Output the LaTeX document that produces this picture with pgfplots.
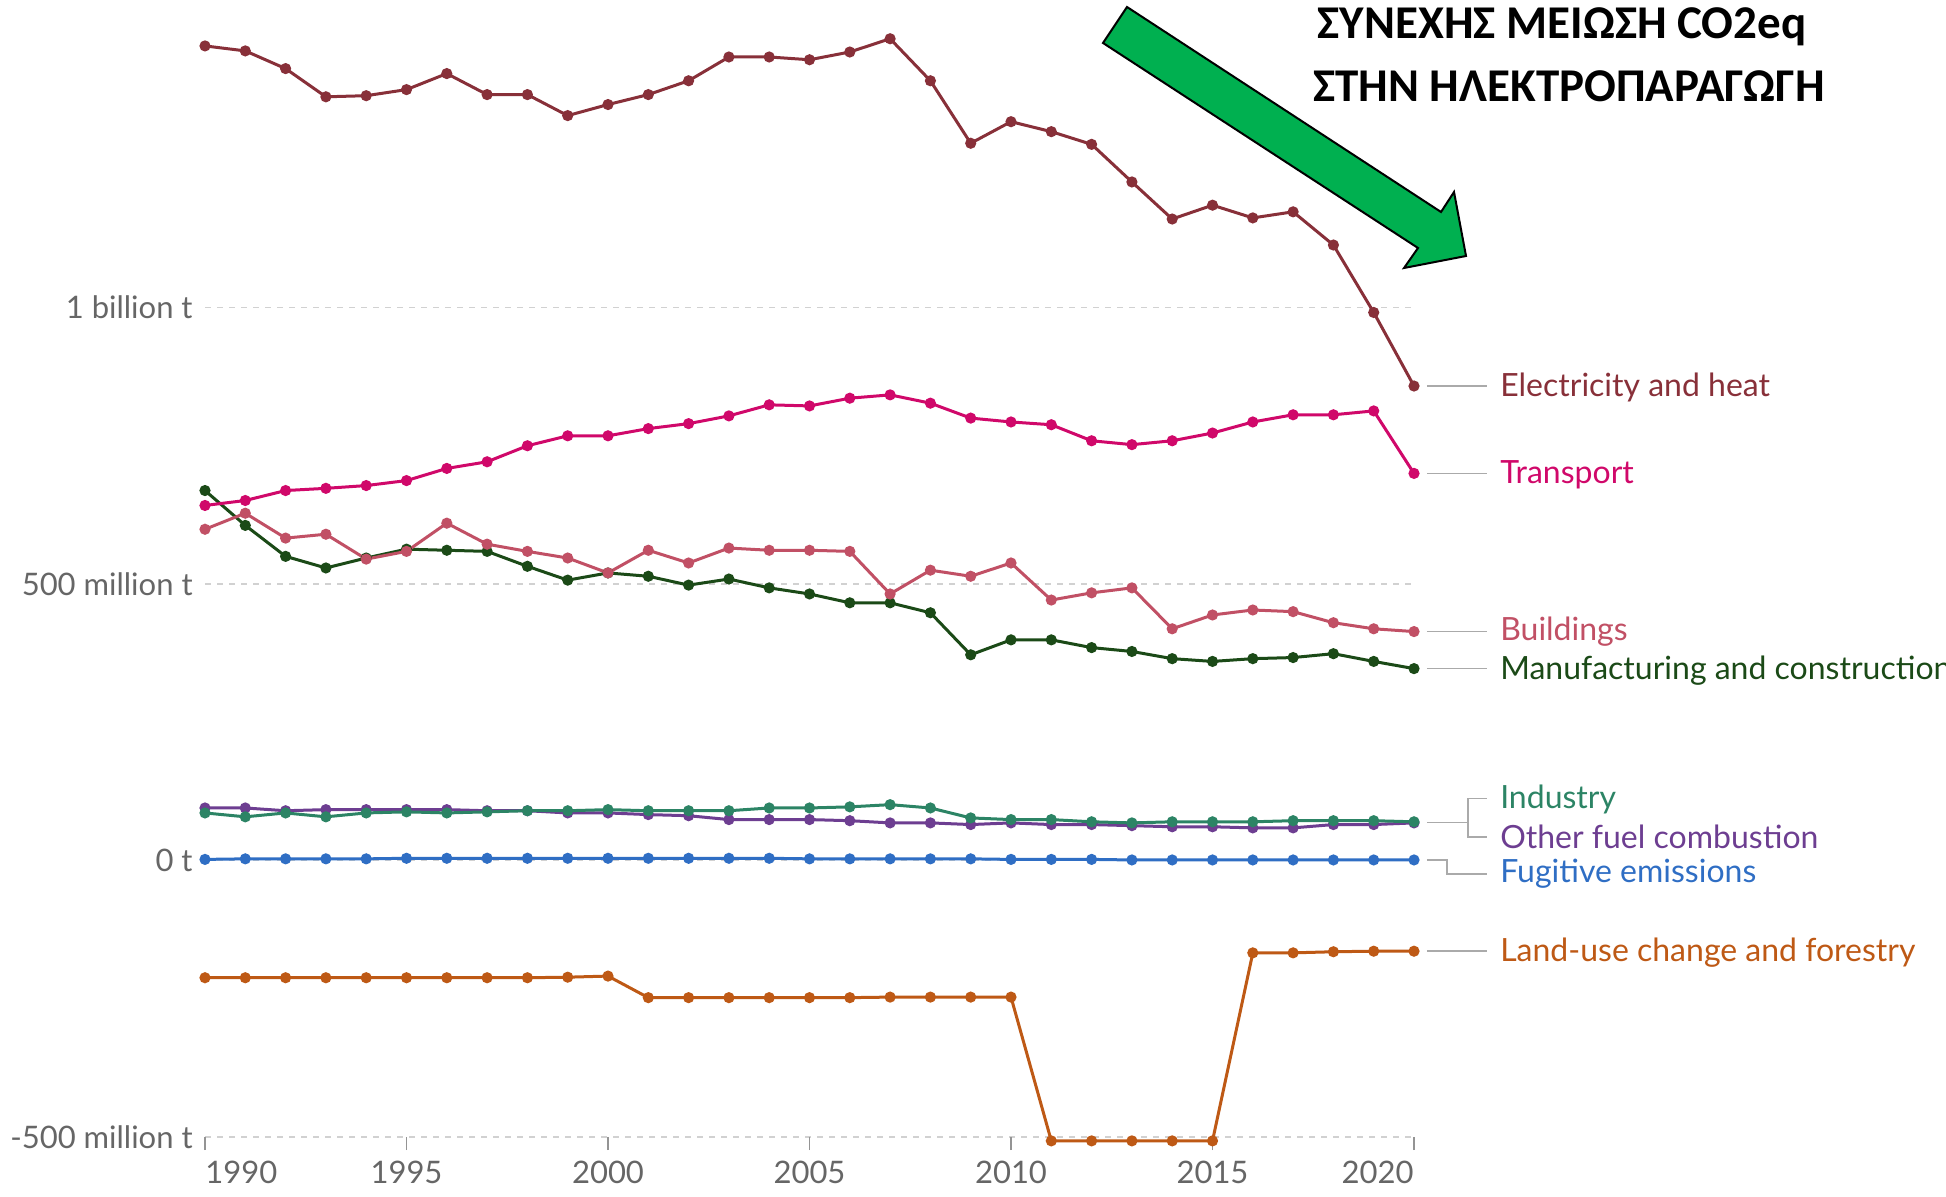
\documentclass[border=0pt]{standalone}
\usepackage{fontspec}
\setmainfont{Lato}
\newfontfamily\annfont{Carlito}
\usepackage{pgfplots}
\pgfplotsset{compat=1.18}
\definecolor{celec}{HTML}{883039}
\definecolor{ctrans}{HTML}{D0086A}
\definecolor{cbuild}{HTML}{C15065}
\definecolor{cmanuf}{HTML}{1B4A17}
\definecolor{cindus}{HTML}{2C8465}
\definecolor{cother}{HTML}{6D3E91}
\definecolor{cfugit}{HTML}{2F6EC4}
\definecolor{cland}{HTML}{BE5915}
\definecolor{ctick}{HTML}{666666}
\definecolor{cconn}{HTML}{AAAAAA}
\definecolor{carrow}{HTML}{00B050}
\begin{document}
\begin{tikzpicture}
\begin{axis}[
  at={(102.5pt,29.5pt)}, anchor=south west,
  scale only axis, width=604.5pt, height=553pt,
  xmin=1990, xmax=2020, ymin=-500, ymax=1500,
  clip=false,
  axis line style={draw=none},
  xtick={1990,1995,...,2020}, xticklabels={},
  xtick pos=lower, ytick pos=left,
  ytick={-500,0,500,1000}, yticklabels={},
  tick align=outside, major tick length=6.5pt,
  xtick style={draw=ctick!70, line width=0.8pt},
  ytick style={draw=none},
  ymajorgrids, grid style={dashed, draw=black!18, line width=0.8pt},
  every axis plot/.append style={line width=1.5pt, mark=*, mark size=2pt},
]
% Land-use change and forestry
\addplot[color=cland, mark options={fill=cland}] coordinates {
(1990,-212)(1991,-212)(1992,-212)(1993,-212)(1994,-212)(1995,-212)(1996,-212)(1997,-212)(1998,-212)(1999,-211)(2000,-209)
(2001,-248)(2002,-248)(2003,-248)(2004,-248)(2005,-248)(2006,-248)(2007,-247)(2008,-247)(2009,-247)(2010,-247)
(2011,-507)(2012,-507)(2013,-507)(2014,-507)(2015,-507)
(2016,-167)(2017,-167)(2018,-165)(2019,-164)(2020,-164)};
% Fugitive emissions
\addplot[color=cfugit, mark options={fill=cfugit}] coordinates {
(1990,2)(1991,3)(1992,3)(1993,3)(1994,3)(1995,4)(1996,4)(1997,4)(1998,4)(1999,4)(2000,4)
(2001,4)(2002,4)(2003,4)(2004,4)(2005,3)(2006,3)(2007,3)(2008,3)(2009,3)(2010,2)
(2011,2)(2012,2)(2013,1)(2014,1)(2015,1)(2016,1)(2017,1)(2018,1)(2019,1)(2020,1)};
% Other fuel combustion
\addplot[color=cother, mark options={fill=cother}] coordinates {
(1990,95)(1991,95)(1992,90)(1993,92)(1994,92)(1995,92)(1996,92)(1997,90)(1998,90)(1999,86)(2000,86)
(2001,83)(2002,81)(2003,74)(2004,74)(2005,74)(2006,72)(2007,68)(2008,68)(2009,65)(2010,68)
(2011,65)(2012,65)(2013,63)(2014,61)(2015,61)(2016,59)(2017,59)(2018,65)(2019,65)(2020,68)};
% Industry
\addplot[color=cindus, mark options={fill=cindus}] coordinates {
(1990,86)(1991,79)(1992,86)(1993,79)(1994,86)(1995,88)(1996,86)(1997,88)(1998,90)(1999,90)(2000,92)
(2001,90)(2002,90)(2003,90)(2004,95)(2005,95)(2006,97)(2007,101)(2008,95)(2009,77)(2010,74)
(2011,74)(2012,70)(2013,68)(2014,70)(2015,70)(2016,70)(2017,72)(2018,72)(2019,72)(2020,70)};
% Manufacturing and construction
\addplot[color=cmanuf, mark options={fill=cmanuf}] coordinates {
(1990,669)(1991,606)(1992,550)(1993,529)(1994,547)(1995,563)(1996,561)(1997,559)(1998,532)(1999,507)(2000,520)
(2001,514)(2002,498)(2003,509)(2004,493)(2005,482)(2006,466)(2007,466)(2008,448)(2009,372)(2010,399)
(2011,399)(2012,385)(2013,378)(2014,365)(2015,360)(2016,365)(2017,367)(2018,374)(2019,360)(2020,347)};
% Buildings
\addplot[color=cbuild, mark options={fill=cbuild}] coordinates {
(1990,599)(1991,628)(1992,583)(1993,590)(1994,545)(1995,559)(1996,610)(1997,572)(1998,559)(1999,547)(2000,520)
(2001,561)(2002,538)(2003,565)(2004,561)(2005,561)(2006,559)(2007,482)(2008,525)(2009,514)(2010,538)
(2011,471)(2012,484)(2013,493)(2014,419)(2015,444)(2016,453)(2017,450)(2018,430)(2019,419)(2020,414)};
% Transport
\addplot[color=ctrans, mark options={fill=ctrans}] coordinates {
(1990,642)(1991,651)(1992,669)(1993,673)(1994,678)(1995,687)(1996,709)(1997,721)(1998,750)(1999,768)(2000,768)
(2001,781)(2002,790)(2003,804)(2004,824)(2005,822)(2006,836)(2007,842)(2008,827)(2009,800)(2010,793)
(2011,788)(2012,759)(2013,752)(2014,759)(2015,773)(2016,793)(2017,806)(2018,806)(2019,813)(2020,700)};
% Electricity and heat
\addplot[color=celec, mark options={fill=celec}] coordinates {
(1990,1473)(1991,1464)(1992,1432)(1993,1381)(1994,1383)(1995,1394)(1996,1423)(1997,1385)(1998,1385)(1999,1347)(2000,1367)
(2001,1385)(2002,1410)(2003,1453)(2004,1453)(2005,1448)(2006,1462)(2007,1486)(2008,1410)(2009,1297)(2010,1336)
(2011,1318)(2012,1295)(2013,1227)(2014,1160)(2015,1185)(2016,1162)(2017,1173)(2018,1113)(2019,991)(2020,858)};

% tick labels
\begin{scope}[every node/.style={text=ctick, inner sep=0pt, font=\fontsize{15.5}{18}\selectfont}]
\node[anchor=west] at (axis cs:1990,-500) [yshift=-17.5pt] {1990};
\node at (axis cs:1995,-500) [yshift=-17.5pt] {1995};
\node at (axis cs:2000,-500) [yshift=-17.5pt] {2000};
\node at (axis cs:2005,-500) [yshift=-17.5pt] {2005};
\node at (axis cs:2010,-500) [yshift=-17.5pt] {2010};
\node at (axis cs:2015,-500) [yshift=-17.5pt] {2015};
\node[anchor=east] at (axis cs:2020,-500) [yshift=-17.5pt] {2020};
\node[anchor=east] at (axis cs:1990,1000) [xshift=-6pt] {1 billion t};
\node[anchor=east] at (axis cs:1990,500) [xshift=-6pt] {500 million t};
\node[anchor=east] at (axis cs:1990,0) [xshift=-6pt] {0 t};
\node[anchor=east] at (axis cs:1990,-500) [xshift=-6pt] {-500 million t};
\end{scope}

% connectors
\begin{scope}[draw=cconn, line width=0.8pt]
\draw (axis cs:2020.32,858) -- (axis cs:2021.81,858);
\draw (axis cs:2020.32,700) -- (axis cs:2021.81,700);
\draw (axis cs:2020.32,414) -- (axis cs:2021.81,414);
\draw (axis cs:2020.32,347) -- (axis cs:2021.81,347);
\draw (axis cs:2020.32,69) -- (axis cs:2021.34,69);
\draw (axis cs:2021.81,112) -- (axis cs:2021.34,112) -- (axis cs:2021.34,42) -- (axis cs:2021.81,42);
\draw (axis cs:2020.32,1) -- (axis cs:2020.82,1) -- (axis cs:2020.82,-24) -- (axis cs:2021.81,-24);
\draw (axis cs:2020.32,-164) -- (axis cs:2021.81,-164);
\end{scope}

% line labels
\begin{scope}[every node/.style={anchor=west, inner sep=0pt, font=\fontsize{16}{19}\selectfont}]
\node[text=celec] at (axis cs:2022.13,856) {Electricity and heat};
\node[text=ctrans] at (axis cs:2022.13,698) {Transport};
\node[text=cbuild] at (axis cs:2022.13,414) {Buildings};
\node[text=cmanuf] at (axis cs:2022.13,344) {Manufacturing and construction};
\node[text=cindus] at (axis cs:2022.13,110) {Industry};
\node[text=cother] at (axis cs:2022.13,43) {Other fuel combustion};
\node[text=cfugit] at (axis cs:2022.13,-24) {Fugitive emissions};
\node[text=cland] at (axis cs:2022.13,-166) {Land-use change and forestry};
\end{scope}
\end{axis}

% annotation arrow
\draw[fill=carrow, draw=black, line width=1pt, line join=miter]
 (563.5pt,594.5pt) -- (720.5pt,492pt) -- (727pt,502pt) -- (733pt,470pt)
 -- (702pt,464pt) -- (709pt,474pt) -- (551.5pt,576.5pt) -- cycle;
\node[font=\annfont\bfseries\fontsize{23.5}{28}\selectfont, inner sep=0pt] at (781pt,584.5pt) {ΣΥΝΕΧΗΣ ΜΕΙΩΣΗ CO2eq};
\node[font=\annfont\bfseries\fontsize{23.5}{28}\selectfont, inner sep=0pt] at (784.5pt,555pt) {ΣΤΗΝ ΗΛΕΚΤΡΟΠΑΡΑΓΩΓΗ};

\pgfresetboundingbox
\path[use as bounding box] (0,0) rectangle (973pt,598pt);
\end{tikzpicture}
\end{document}
